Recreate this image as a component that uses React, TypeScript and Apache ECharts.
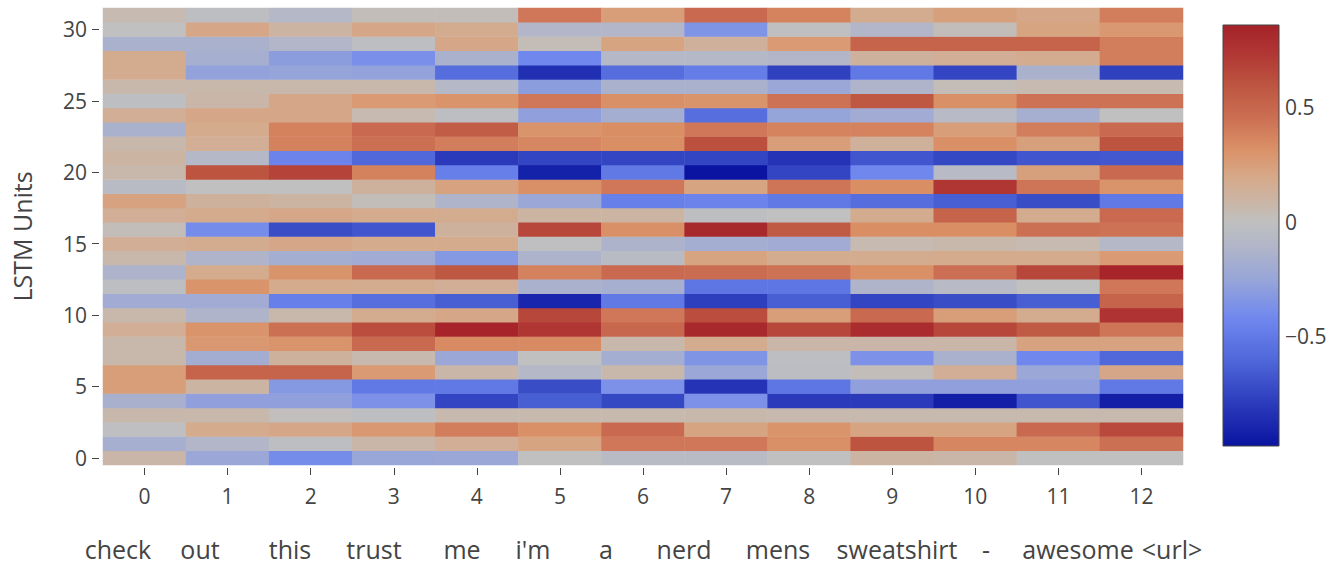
import React, { useEffect, useRef } from "react";
import * as echarts from "echarts";

// ---------------- data ----------------
const xCategories = ["0", "1", "2", "3", "4", "5", "6", "7", "8", "9", "10", "11", "12"];
const words = ["check", "out", "this", "trust", "me", "i'm", "a", "nerd", "mens", "sweatshirt", "-", "awesome", "<url>"];
const unitLabels = [
  "0", "1", "2", "3", "4", "5", "6", "7", "8", "9", "10", "11", "12", "13", "14", "15",
  "16", "17", "18", "19", "20", "21", "22", "23", "24", "25", "26", "27", "28", "29", "30", "31",
];
const colorbarTicks = [0.5, 0, -0.5];
const colorbarTickLabels = ["0.5", "0", "\u22120.5"];
const valueMin = -0.98;
const valueMax = 0.86;

// activations: one array per LSTM unit (row 0 .. 31), 13 tokens each
const row0 = [0.08, -0.24, -0.4, -0.25, -0.24, 0, -0.05, -0.05, 0, 0.1, 0.08, 0, 0];
const row1 = [-0.17, -0.1, -0.02, 0.08, 0.15, 0.22, 0.42, 0.42, 0.32, 0.6, 0.36, 0.36, 0.45];
const row2 = [-0.01, 0.18, 0.2, 0.28, 0.4, 0.32, 0.48, 0.22, 0.3, 0.22, 0.22, 0.48, 0.65];
const row3 = [0.07, 0.07, 0.01, -0.02, 0.06, 0.06, 0.06, 0.07, 0.06, 0.06, 0.06, 0.06, 0.06];
const row4 = [-0.16, -0.28, -0.28, -0.37, -0.75, -0.64, -0.74, -0.37, -0.8, -0.8, -0.93, -0.68, -0.93];
const row5 = [0.25, 0.1, -0.33, -0.5, -0.5, -0.72, -0.37, -0.83, -0.52, -0.28, -0.28, -0.28, -0.5];
const row6 = [0.25, 0.52, 0.52, 0.27, 0.08, -0.08, 0.07, -0.24, -0.03, 0.02, 0.15, -0.24, 0.2];
const row7 = [0.07, -0.19, 0.12, 0.06, -0.24, 0, -0.18, -0.35, -0.02, -0.37, -0.15, -0.42, -0.6];
const row8 = [0.07, 0.28, 0.3, 0.48, 0.34, 0.34, 0.07, 0.17, 0.08, 0.08, 0.08, 0.23, 0.23];
const row9 = [0.15, 0.3, 0.45, 0.63, 0.84, 0.74, 0.5, 0.82, 0.66, 0.8, 0.66, 0.57, 0.43];
const row10 = [0.07, -0.12, 0.07, 0.17, 0.2, 0.66, 0.42, 0.63, 0.25, 0.48, 0.25, 0.17, 0.76];
const row11 = [-0.2, -0.2, -0.47, -0.56, -0.64, -0.9, -0.5, -0.78, -0.64, -0.75, -0.72, -0.64, 0.52];
const row12 = [-0.02, 0.3, 0.18, 0.17, 0.15, -0.15, -0.17, -0.52, -0.52, -0.12, -0.06, 0, 0.42];
const row13 = [-0.13, 0.18, 0.3, 0.48, 0.58, 0.38, 0.48, 0.47, 0.44, 0.32, 0.46, 0.66, 0.84];
const row14 = [0.07, -0.12, -0.18, -0.2, -0.33, -0.13, -0.05, 0.22, 0.17, 0.17, 0.18, 0.18, 0.27];
const row15 = [0.15, 0.17, 0.2, 0.18, 0.18, -0.01, -0.13, -0.18, -0.2, 0.05, 0.07, 0.05, -0.08];
const row16 = [0.02, -0.4, -0.72, -0.68, 0.12, 0.66, 0.32, 0.82, 0.57, 0.33, 0.33, 0.45, 0.44];
const row17 = [0.15, 0.18, 0.2, 0.18, 0.17, 0.1, 0.1, -0.02, 0, 0.17, 0.52, 0.17, 0.48];
const row18 = [0.23, 0.12, 0.1, 0.02, -0.12, -0.24, -0.47, -0.45, -0.5, -0.57, -0.64, -0.72, -0.5];
const row19 = [-0.05, 0, 0, 0.12, 0.23, 0.32, 0.42, 0.22, 0.43, 0.33, 0.74, 0.43, 0.3];
const row20 = [0.07, 0.6, 0.68, 0.38, -0.47, -0.92, -0.5, -0.98, -0.75, -0.42, -0.06, 0.24, 0.48];
const row21 = [0.1, -0.08, -0.45, -0.6, -0.8, -0.75, -0.75, -0.75, -0.83, -0.68, -0.74, -0.68, -0.67];
const row22 = [0.07, 0.15, 0.38, 0.45, 0.4, 0.36, 0.33, 0.62, 0.25, 0.13, 0.32, 0.24, 0.6];
const row23 = [-0.15, 0.18, 0.38, 0.48, 0.56, 0.3, 0.33, 0.42, 0.37, 0.37, 0.25, 0.4, 0.48];
const row24 = [0.15, 0.2, 0.2, 0.05, -0.02, -0.28, -0.18, -0.56, -0.26, -0.2, -0.06, -0.17, 0];
const row25 = [-0.02, 0.08, 0.2, 0.27, 0.3, 0.42, 0.32, 0.3, 0.44, 0.58, 0.32, 0.44, 0.44];
const row26 = [0.07, 0.07, 0.07, 0.07, -0.08, -0.3, -0.15, -0.15, -0.24, -0.12, 0.03, 0.05, 0.05];
const row27 = [0.17, -0.27, -0.26, -0.27, -0.57, -0.85, -0.57, -0.48, -0.77, -0.5, -0.75, -0.15, -0.77];
const row28 = [0.17, -0.17, -0.3, -0.38, -0.15, -0.42, -0.08, -0.08, -0.1, 0.12, 0.15, 0.17, 0.4];
const row29 = [-0.15, -0.15, -0.1, -0.02, 0.2, 0.03, 0.22, 0.13, 0.27, 0.52, 0.52, 0.52, 0.4];
const row30 = [0, 0.2, 0.1, 0.2, 0.17, -0.1, -0.1, -0.35, -0.01, -0.1, 0.02, 0.22, 0.28];
const row31 = [0.05, -0.02, -0.08, 0.02, 0.02, 0.42, 0.25, 0.48, 0.37, 0.17, 0.24, 0.2, 0.4];

const rows = [
  row0, row1, row2, row3, row4, row5, row6, row7, row8, row9, row10, row11, row12, row13, row14, row15,
  row16, row17, row18, row19, row20, row21, row22, row23, row24, row25, row26, row27, row28, row29, row30, row31,
];

// colour scale anchors (value -> colour)
const scaleAnchors: [number, string][] = [
  [-0.98, "#0a14a0"],
  [-0.8, "#2a3abb"],
  [-0.6, "#5068da"],
  [-0.42, "#7088ee"],
  [-0.25, "#98a6d8"],
  [-0.1, "#b2b6c8"],
  [0, "#c0c0c0"],
  [0.1, "#ccb4a2"],
  [0.2, "#d6a888"],
  [0.32, "#da9066"],
  [0.45, "#cc7054"],
  [0.6, "#bc5440"],
  [0.74, "#b03634"],
  [0.86, "#a52228"],
];

function hexToRgb(h: string): number[] {
  const n = parseInt(h.slice(1), 16);
  return [(n >> 16) & 255, (n >> 8) & 255, n & 255];
}
function colorAt(v: number): string {
  if (v <= scaleAnchors[0][0]) return scaleAnchors[0][1];
  for (let i = 1; i < scaleAnchors.length; i++) {
    const [v1, c1] = scaleAnchors[i];
    const [v0, c0] = scaleAnchors[i - 1];
    if (v <= v1) {
      const t = (v - v0) / (v1 - v0);
      const a = hexToRgb(c0);
      const b = hexToRgb(c1);
      const r = a.map((x, k) => Math.round(x + (b[k] - x) * t));
      return `rgb(${r[0]},${r[1]},${r[2]})`;
    }
  }
  return scaleAnchors[scaleAnchors.length - 1][1];
}

const FONT = "'Open Sans', 'DejaVu Sans', sans-serif";
const TEXT = "#444";

export default function App() {
  const ref = useRef<HTMLDivElement>(null);

  useEffect(() => {
    if (!ref.current) return;
    const chart = echarts.init(ref.current, undefined, { renderer: "svg" });

    const data: [number, number, number][] = [];
    rows.forEach((row, y) => row.forEach((v, x) => data.push([x, y, v])));

    const steps = 80;
    const rangeColors: string[] = [];
    for (let i = 0; i < steps; i++) {
      rangeColors.push(colorAt(valueMin + ((valueMax - valueMin) * i) / (steps - 1)));
    }

    // colorbar geometry
    const cbX = 1223;
    const cbY = 25;
    const cbW = 56;
    const cbH = 421;
    const span = valueMax - valueMin;
    const stops = scaleAnchors
      .map(([v, c]) => ({ offset: (valueMax - v) / span, color: c }))
      .sort((a, b) => a.offset - b.offset);

    const wordCenters = [118, 200, 290, 374, 462, 533, 606, 684, 778, 897, 986, 1078, 1172];

    const graphic: any[] = [
      {
        type: "rect",
        shape: { x: cbX, y: cbY, width: cbW, height: cbH },
        style: {
          fill: new echarts.graphic.LinearGradient(0, 0, 0, 1, stops),
          stroke: "#444",
          lineWidth: 1,
        },
        silent: true,
      },
      ...colorbarTicks.map((v, i) => ({
        type: "text",
        x: cbX + cbW + 6,
        y: cbY + ((valueMax - v) / span) * cbH,
        style: {
          text: colorbarTickLabels[i],
          fill: TEXT,
          font: `21px ${FONT}`,
          textAlign: "left",
          textVerticalAlign: "middle",
        },
        silent: true,
      })),
      ...words.map((w, i) => ({
        type: "text",
        x: wordCenters[i],
        y: 549,
        style: {
          text: w,
          fill: TEXT,
          font: `25px ${FONT}`,
          lineHeight: 26,
          textAlign: "center",
          textVerticalAlign: "middle",
        },
        silent: true,
      })),
    ];

    chart.setOption({
      animation: false,
      grid: { left: 103, top: 8, width: 1080, height: 457 },
      xAxis: {
        type: "category",
        data: xCategories,
        offset: 3,
        axisLine: { show: false },
        axisTick: { show: true, alignWithLabel: true, length: 7, lineStyle: { color: TEXT } },
        axisLabel: { color: TEXT, fontSize: 21, fontFamily: FONT, margin: 17 },
        splitLine: { show: false },
      },
      yAxis: {
        type: "category",
        data: unitLabels,
        offset: 4,
        axisLine: { show: false },
        axisTick: {
          show: true,
          alignWithLabel: true,
          length: 7,
          interval: (i: number) => i % 5 === 0,
          lineStyle: { color: TEXT },
        },
        axisLabel: {
          color: TEXT,
          fontSize: 21,
          fontFamily: FONT,
          margin: 12,
          interval: (i: number) => i % 5 === 0,
        },
        splitLine: { show: false },
        name: "LSTM Units",
        nameLocation: "middle",
        nameGap: 65,
        nameTextStyle: { color: TEXT, fontSize: 25, fontFamily: FONT },
      },
      visualMap: {
        type: "continuous",
        show: false,
        min: valueMin,
        max: valueMax,
        dimension: 2,
        inRange: { color: rangeColors },
      },
      series: [
        {
          type: "heatmap",
          data,
          itemStyle: { borderWidth: 0 },
          emphasis: { disabled: true },
        },
      ],
      graphic,
    });

    return () => chart.dispose();
  }, []);

  return (
    <div
      ref={ref}
      style={{ position: "absolute", left: 0, top: 0, width: 1341, height: 567, background: "#fff" }}
    />
  );
}
